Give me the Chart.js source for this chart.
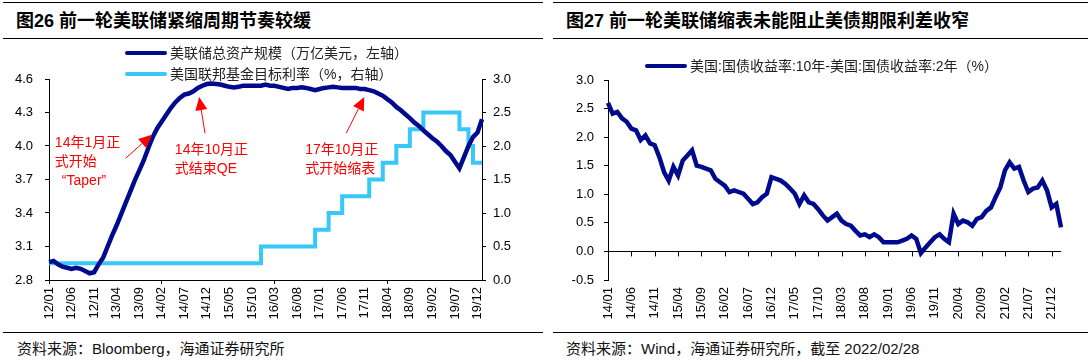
<!DOCTYPE html>
<html>
<head>
<meta charset="utf-8">
<script src="https://cdn.jsdelivr.net/npm/chart.js@4.4.1/dist/chart.umd.min.js"></script>
<style>
  body { margin: 0; background: #fff; }
  #page { position: relative; width: 1090px; height: 362px; overflow: hidden; font-family: "Liberation Sans", "Noto Sans CJK SC", sans-serif; color: #000; }
  .rule { position: absolute; height: 0; border-top: 1.5px solid #000; }
  .title { position: absolute; font-size: 18px; font-weight: bold; line-height: 22px; white-space: nowrap; }
  .src { position: absolute; font-size: 15px; line-height: 18px; white-space: nowrap; color: #111; }
  .leg { position: absolute; display: flex; align-items: center; font-size: 14px; line-height: 18px; white-space: nowrap; color: #222; }
  .leg i { display: inline-block; width: 42px; height: 4px; border-radius: 2px; margin-right: 3px; }
  .box { position: absolute; top: 0; }
</style>
</head>
<body>
<div id="page">
  <div class="rule" style="left:3px;width:540px;top:2px"></div>
  <div class="title" style="left:16px;top:10px">图26 前一轮美联储紧缩周期节奏较缓</div>
  <div class="rule" style="left:3px;width:540px;top:38px"></div>

  <div class="rule" style="left:553px;width:535px;top:2px"></div>
  <div class="title" style="left:566px;top:10px">图27 前一轮美联储缩表未能阻止美债期限利差收窄</div>
  <div class="rule" style="left:553px;width:535px;top:38px"></div>

  <div class="box" style="left:0;width:545px;height:330px"><canvas id="fedChart" width="545" height="330"></canvas></div>
  <div class="box" style="left:545px;width:545px;height:330px"><canvas id="spreadChart" width="545" height="330"></canvas></div>

  <div class="leg" style="left:125px;top:44px"><i style="background:#000a8c"></i>美联储总资产规模（万亿美元，左轴）</div>
  <div class="leg" style="left:125px;top:65px"><i style="background:#38c8f8"></i>美国联邦基金目标利率（%，右轴）</div>
  <div class="leg" style="left:645px;top:57px"><i style="background:#000a8c"></i>美国:国债收益率:10年-美国:国债收益率:2年（%）</div>

  <div class="rule" style="left:3px;width:540px;top:332px"></div>
  <div class="src" style="left:17px;top:340px">资料来源：Bloomberg，海通证券研究所</div>
  <div class="rule" style="left:553px;width:535px;top:332px"></div>
  <div class="src" style="left:566px;top:340px">资料来源：Wind，海通证券研究所，截至 2022/02/28</div>
</div>

<script>
function monthLabels(startYear, count) {
    const out = [];
    for (let k = 0; k < count; k++) {
        const yy = String((startYear + Math.floor(k / 12)) % 100).padStart(2, '0');
        const mm = String(k % 12 + 1).padStart(2, '0');
        out.push(yy + '/' + mm);
    }
    return out;
}

// 图26: 2012/01 - 2020/01, monthly
const fedMonths = monthLabels(2012, 97);
const fedAssets = [
    2.96, 2.97, 2.94, 2.92, 2.91, 2.90, 2.91, 2.90, 2.88, 2.86, 2.87, 2.94,
    3.00, 3.10, 3.20, 3.29, 3.39, 3.49, 3.59, 3.69, 3.78, 3.87, 3.98, 4.08,
    4.16, 4.22, 4.28, 4.34, 4.39, 4.43, 4.46, 4.47, 4.49, 4.52, 4.54, 4.555,
    4.56, 4.555, 4.55, 4.54, 4.53, 4.525, 4.53, 4.54, 4.54, 4.54, 4.54, 4.54,
    4.55, 4.54, 4.54, 4.53, 4.52, 4.51, 4.52, 4.52, 4.525, 4.52, 4.51, 4.50,
    4.51, 4.52, 4.525, 4.53, 4.525, 4.52, 4.52, 4.52, 4.52, 4.51, 4.51, 4.50,
    4.49, 4.47, 4.45, 4.42, 4.39, 4.35, 4.32, 4.285, 4.25, 4.21, 4.18, 4.14,
    4.105, 4.07, 4.04, 4.00, 3.955, 3.92, 3.86, 3.80, 3.90, 4.00, 4.08, 4.12,
    4.24
];
const fedRate = [
    0.25, 0.25, 0.25, 0.25, 0.25, 0.25, 0.25, 0.25, 0.25, 0.25, 0.25, 0.25,
    0.25, 0.25, 0.25, 0.25, 0.25, 0.25, 0.25, 0.25, 0.25, 0.25, 0.25, 0.25,
    0.25, 0.25, 0.25, 0.25, 0.25, 0.25, 0.25, 0.25, 0.25, 0.25, 0.25, 0.25,
    0.25, 0.25, 0.25, 0.25, 0.25, 0.25, 0.25, 0.25, 0.25, 0.25, 0.25, 0.5,
    0.5, 0.5, 0.5, 0.5, 0.5, 0.5, 0.5, 0.5, 0.5, 0.5, 0.5, 0.75,
    0.75, 0.75, 1.0, 1.0, 1.0, 1.25, 1.25, 1.25, 1.25, 1.25, 1.25, 1.5,
    1.5, 1.5, 1.75, 1.75, 1.75, 2.0, 2.0, 2.0, 2.25, 2.25, 2.25, 2.5,
    2.5, 2.5, 2.5, 2.5, 2.5, 2.5, 2.5, 2.25, 2.25, 2.0, 1.75, 1.75,
    1.75
];
const assetTicks = [2.8, 3.1, 3.4, 3.7, 4.0, 4.3, 4.6];
const rateTicks = [0, 0.5, 1.0, 1.5, 2.0, 2.5, 3.0];

// annotation anchors in data units: [month index, 左轴 value]
const notes = [
    { lines: ['14年1月正', '式开始', '“Taper”'], indent: [0, 0, 7], text: [1.3, 4.024], tail: [17.0, 3.89], tip: [22.8, 4.10] },
    { lines: ['14年10月正', '式结束QE'], indent: [0, 0], text: [27.9, 3.961], tail: [34.6, 4.114], tip: [33.3, 4.438] },
    { lines: ['17年10月正', '式开始缩表'], indent: [0, 0], text: [56.8, 3.961], tail: [65.9, 4.114], tip: [69.9, 4.438] }
];

// 图27: 2014/01 - 2022/02, monthly
const spreadMonths = monthLabels(2014, 98);
const spread = [
    2.60, 2.41, 2.44, 2.33, 2.27, 2.15, 2.12, 1.95, 2.03, 1.89, 1.86, 1.65,
    1.39, 1.24, 1.48, 1.33, 1.59, 1.68, 1.77, 1.50, 1.48, 1.45, 1.42, 1.27,
    1.21, 1.15, 1.04, 1.07, 1.04, 1.01, 0.92, 0.83, 0.86, 0.95, 1.01, 1.30,
    1.27, 1.24, 1.18, 1.10, 1.01, 0.83, 0.98, 0.86, 0.83, 0.74, 0.63, 0.54,
    0.60, 0.66, 0.54, 0.48, 0.45, 0.36, 0.28, 0.30, 0.25, 0.30, 0.25, 0.16,
    0.16, 0.16, 0.16, 0.19, 0.22, 0.28, 0.22, -0.03, 0.07, 0.16, 0.25, 0.30,
    0.22, 0.16, 0.66, 0.48, 0.54, 0.51, 0.45, 0.57, 0.60, 0.71, 0.77, 0.95,
    1.12, 1.42, 1.56, 1.45, 1.48, 1.24, 1.04, 1.10, 1.12, 1.24, 1.07, 0.77,
    0.83, 0.42
];
const spreadTicks = [-0.5, 0, 0.5, 1.0, 1.5, 2.0, 2.5, 3.0];

const navy = '#000a8c';
const lightBlue = '#38c8f8';

Chart.defaults.font.family = '"Liberation Sans", "Noto Sans CJK SC", sans-serif';
Chart.defaults.font.size = 13;
Chart.defaults.color = '#000';

function drawArrow(ctx, x0, y0, x1, y1) {
    const a = Math.atan2(y1 - y0, x1 - x0);
    const len = 13, half = 6;
    const bx = x1 - len * Math.cos(a), by = y1 - len * Math.sin(a);
    ctx.beginPath();
    ctx.moveTo(x0, y0);
    ctx.lineTo(bx, by);
    ctx.stroke();
    ctx.beginPath();
    ctx.moveTo(x1, y1);
    ctx.lineTo(bx + half * Math.sin(a), by - half * Math.cos(a));
    ctx.lineTo(bx - half * Math.sin(a), by + half * Math.cos(a));
    ctx.closePath();
    ctx.fill();
}

const arrowNotes = {
    id: 'arrowNotes',
    afterDatasetsDraw(chart) {
        const { ctx, scales: { x, y } } = chart;
        ctx.save();
        ctx.fillStyle = '#ff0000';
        ctx.strokeStyle = '#ff0000';
        ctx.lineWidth = 1;
        ctx.font = '14px "Liberation Sans", "Noto Sans CJK SC", sans-serif';
        ctx.textBaseline = 'middle';
        ctx.textAlign = 'left';
        notes.forEach(n => {
            const tx = x.getPixelForValue(n.text[0]);
            const ty = y.getPixelForValue(n.text[1]);
            n.lines.forEach((line, k) => ctx.fillText(line, tx + n.indent[k], ty + k * 19));
            drawArrow(ctx,
                x.getPixelForValue(n.tail[0]), y.getPixelForValue(n.tail[1]),
                x.getPixelForValue(n.tip[0]), y.getPixelForValue(n.tip[1]));
        });
        ctx.restore();
    }
};

// tick marks hanging from the 0 line
const zeroTicks = {
    id: 'zeroTicks',
    beforeDatasetsDraw(chart) {
        const { ctx, scales: { x, y } } = chart;
        const y0 = y.getPixelForValue(0);
        ctx.save();
        ctx.strokeStyle = '#000';
        ctx.lineWidth = 1;
        x.ticks.forEach((t, i) => {
            if (t.label == null) return;
            const px = Math.round(x.getPixelForTick(i)) + 0.5;
            ctx.beginPath();
            ctx.moveTo(px, y0);
            ctx.lineTo(px, y0 + 5);
            ctx.stroke();
        });
        ctx.restore();
    }
};

function monthAxis(labels, showGrid) {
    return {
        type: 'category',
        offset: false,
        border: { display: showGrid, color: '#000' },
        grid: {
            display: true,
            drawOnChartArea: false,
            tickLength: 4,
            color: 'rgba(0,0,0,0)',
            tickColor: ctx => (showGrid && ctx.index % 5 === 0) ? '#000' : 'rgba(0,0,0,0)'
        },
        ticks: {
            autoSkip: false,
            maxRotation: 90,
            minRotation: 90,
            padding: 3,
            callback: (v, i) => i % 5 === 0 ? labels[i] : null
        },
        afterFit: s => { s.height = 50; }
    };
}

function valueAxis(pos, min, max, list, pad, width, extra) {
    return Object.assign({
        position: pos,
        min: min,
        max: max,
        afterBuildTicks: s => { s.ticks = list.map(v => ({ value: v })); },
        border: { color: '#000' },
        grid: { drawOnChartArea: false, tickLength: 4, tickColor: '#000' },
        ticks: { padding: pad, callback: v => v.toFixed(1) },
        afterFit: s => { s.width = width; }
    }, extra || {});
}

new Chart(document.getElementById('fedChart'), {
    type: 'line',
    data: {
        labels: fedMonths,
        datasets: [
            {
                label: '美联储总资产规模（万亿美元，左轴）',
                data: fedAssets,
                yAxisID: 'y',
                borderColor: navy,
                borderWidth: 4.5,
                pointRadius: 0,
                order: 0
            },
            {
                label: '美国联邦基金目标利率（%，右轴）',
                data: fedRate,
                yAxisID: 'y1',
                borderColor: lightBlue,
                borderWidth: 4,
                stepped: true,
                pointRadius: 0,
                order: 1
            }
        ]
    },
    options: {
        responsive: false,
        animation: false,
        devicePixelRatio: 1,
        layout: { padding: { top: 79, left: 0, right: 0, bottom: 0 } },
        plugins: { legend: { display: false }, tooltip: { enabled: false } },
        scales: {
            x: monthAxis(fedMonths, true),
            y: valueAxis('left', 2.8, 4.6, assetTicks, 12, 49),
            y1: valueAxis('right', 0, 3, rateTicks, 7, 63)
        }
    },
    plugins: [arrowNotes]
});

new Chart(document.getElementById('spreadChart'), {
    type: 'line',
    data: {
        labels: spreadMonths,
        datasets: [
            {
                label: '美国:国债收益率:10年-美国:国债收益率:2年（%）',
                data: spread,
                borderColor: navy,
                borderWidth: 4.5,
                pointRadius: 0
            }
        ]
    },
    options: {
        responsive: false,
        animation: false,
        devicePixelRatio: 1,
        layout: { padding: { top: 80, left: 0, right: 29, bottom: 0 } },
        plugins: { legend: { display: false }, tooltip: { enabled: false } },
        scales: {
            x: monthAxis(spreadMonths, false),
            y: valueAxis('left', -0.5, 3, spreadTicks, 10, 63, {
                grid: {
                    drawOnChartArea: true,
                    tickLength: 4,
                    tickColor: '#000',
                    color: ctx => (ctx.tick && ctx.tick.value === 0) ? '#000' : 'rgba(0,0,0,0)'
                }
            })
        }
    },
    plugins: [zeroTicks]
});
</script>
</body>
</html>
